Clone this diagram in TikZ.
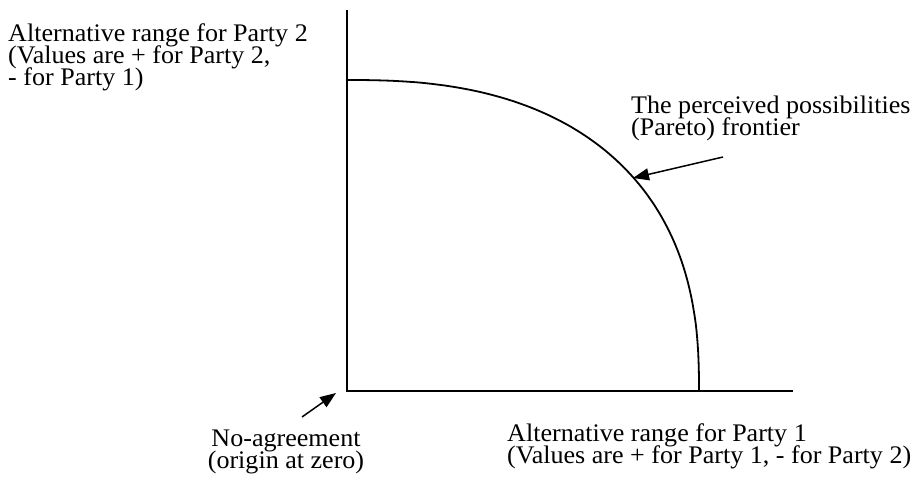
\documentclass[tikz,border=0pt]{standalone}
\usepackage{fontspec}
\setmainfont{Liberation Serif}[FakeStretch=1.03]
\usetikzlibrary{arrows.meta}
% label font with a fixed, tight line pitch
\newcommand\labelfont{\fontsize{25.3}{22}\selectfont\lineskiplimit=-50pt\relax\lineskip=0pt\relax}
\begin{document}
\begin{tikzpicture}[x=1pt,y=-1pt,
  axis/.style={line width=1.8pt},
  frontier/.style={line width=1.8pt,line join=round},
  pointer/.style={line width=1.5pt,-{Triangle[length=16pt,width=12pt]}},
  lbl/.style={font=\labelfont,inner sep=0pt,align=left},
  clbl/.style={font=\labelfont,inner sep=0pt,align=center}]
\useasboundingbox (0,0) rectangle (923,487);
% axes
\coordinate (O) at (347,391);
\coordinate (ytop) at (347,10);
\coordinate (xend) at (793,391);
\coordinate (fstart) at (347,80);
\coordinate (fend) at (699,391);
\draw[axis] (ytop) -- (O) -- (xend);
% possibilities frontier (superellipse quadrant)
\draw[frontier] (fend) -- plot[domain=0.5:89.5,samples=140,variable=\t]
  ({347+352*pow(cos(\t),0.816)},{391-311*pow(sin(\t),0.816)}) -- (fstart);
% labels (anchored on the baseline of their last line)
\node[lbl,anchor=base west] (p2) at (8,85)
  {Alternative range for Party 2\\(Values are + for Party 2,\\- for Party 1)};
\node[lbl,anchor=base west] (pareto) at (631,135)
  {The perceived possibilities\\(Pareto) frontier};
\node[clbl,anchor=base] (noagr) at (286,468)
  {No-agreement\\(origin at zero)};
\node[lbl,anchor=base west] (p1) at (507,463)
  {Alternative range for Party 1\\(Values are + for Party 1, - for Party 2)};
% pointers
\coordinate (ptail) at (723,157);
\coordinate (phead) at (633,178);
\coordinate (otail) at (302,417);
\coordinate (ohead) at (336,393);
\draw[pointer] (ptail) -- (phead);
\draw[pointer] (otail) -- (ohead);
\end{tikzpicture}
\end{document}
